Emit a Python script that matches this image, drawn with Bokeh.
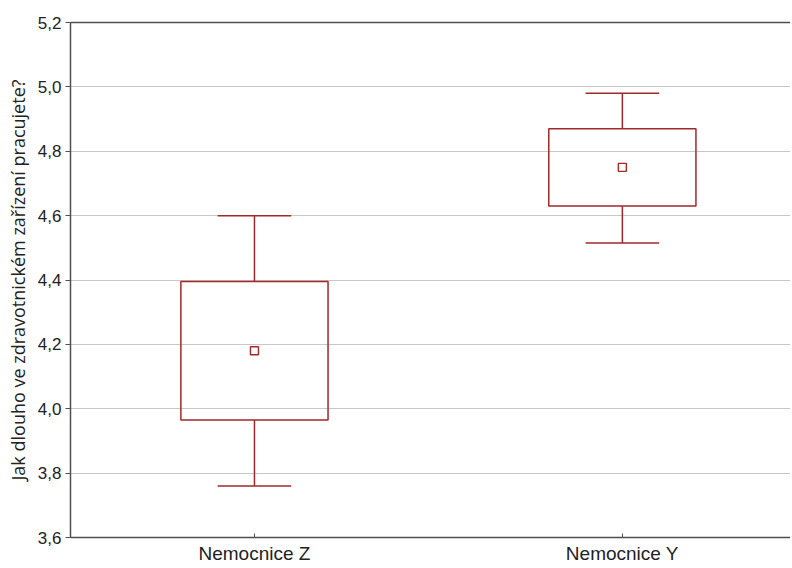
import numpy as np
from bokeh.plotting import figure
from bokeh.models import (Range1d, FixedTicker, CustomJSTickFormatter,
                          ColumnDataSource, LinearAxis)
from bokeh.embed import file_html
from bokeh.resources import INLINE

categories = ["Nemocnice Z", "Nemocnice Y"]
means = [4.18, 4.75]
box_low = [3.965, 4.63]
box_high = [4.395, 4.87]
whisker_low = [3.76, 4.515]
whisker_high = [4.60, 4.98]
y_ticks = [3.6, 3.8, 4.0, 4.2, 4.4, 4.6, 4.8, 5.0, 5.2]
y_label = "Jak dlouho ve zdravotnickém zařízení pracujete?"

RED = "#A0292C"
AX = "#505050"
BOX_W = 0.40
CAP_W = 0.20

x_pos = np.arange(len(categories)) + 0.5
src = ColumnDataSource(dict(x=x_pos, mean=means, blo=box_low, bhi=box_high,
                            wlo=whisker_low, whi=whisker_high,
                            cx0=x_pos - CAP_W / 2, cx1=x_pos + CAP_W / 2))

p = figure(width=790, height=566, x_range=Range1d(0, 1.957),
           y_range=Range1d(3.6, 5.2), output_backend="svg", toolbar_location=None,
           min_border_left=70, min_border_top=22, min_border_right=0, min_border_bottom=27)
p.outline_line_color = None
p.background_fill_color = "white"
p.border_fill_color = "white"

# grid
p.xgrid.grid_line_color = None
p.ygrid.grid_line_color = "#c8c8c8"
p.ygrid.grid_line_width = 1

# y axis
p.yaxis.ticker = FixedTicker(ticks=y_ticks)
p.yaxis.formatter = CustomJSTickFormatter(code="return tick.toFixed(1).replace('.', ',');")
p.yaxis.axis_label = y_label
p.yaxis.axis_label_text_font = "Open Sans"
p.yaxis.axis_label_text_font_style = "normal"
p.yaxis.axis_label_text_font_size = "18px"
p.yaxis.axis_label_text_color = "#222222"
p.yaxis.axis_label_standoff = 5
p.yaxis.major_label_text_font = "Liberation Sans"
p.yaxis.major_label_text_font_size = "17px"
p.yaxis.major_label_text_color = "#222222"
p.yaxis.major_label_standoff = 4
p.yaxis.major_tick_out = 5
p.yaxis.major_tick_in = 0
p.yaxis.minor_tick_line_color = None
p.yaxis.axis_line_color = AX
p.yaxis.major_tick_line_color = AX
p.yaxis.axis_line_width = 1.5

# x axis (categories at the centre of each unit)
p.xaxis.ticker = FixedTicker(ticks=list(x_pos))
p.xaxis.formatter = CustomJSTickFormatter(args=dict(labels=categories),
                                          code="return labels[Math.floor(tick)];")
p.xaxis.major_label_text_font = "Liberation Sans"
p.xaxis.major_label_text_font_size = "19px"
p.xaxis.major_label_text_color = "#222222"
p.xaxis.major_label_standoff = 5
p.xaxis.major_tick_in = 4
p.xaxis.major_tick_out = 0
p.xaxis.minor_tick_line_color = None
p.xaxis.axis_line_color = AX
p.xaxis.major_tick_line_color = AX
p.xaxis.axis_line_width = 1.5

# top frame line
top = LinearAxis(ticker=FixedTicker(ticks=[]), major_tick_in=0, major_tick_out=0,
                 minor_tick_line_color=None, major_tick_line_color=None,
                 axis_line_color=AX, axis_line_width=1.5)
p.add_layout(top, "above")

# boxes
p.vbar(x="x", bottom="blo", top="bhi", width=BOX_W, source=src,
       fill_color=None, line_color=RED, line_width=1.5)
# whisker stems
p.segment(x0="x", y0="bhi", x1="x", y1="whi", source=src, line_color=RED, line_width=1.5)
p.segment(x0="x", y0="blo", x1="x", y1="wlo", source=src, line_color=RED, line_width=1.5)
# caps
p.segment(x0="cx0", y0="whi", x1="cx1", y1="whi", source=src, line_color=RED, line_width=1.5)
p.segment(x0="cx0", y0="wlo", x1="cx1", y1="wlo", source=src, line_color=RED, line_width=1.5)
# means
p.scatter(x="x", y="mean", source=src, marker="square", size=8,
          fill_color="white", line_color=RED, line_width=1.4)

open("out.html", "w").write(file_html(p, INLINE))
